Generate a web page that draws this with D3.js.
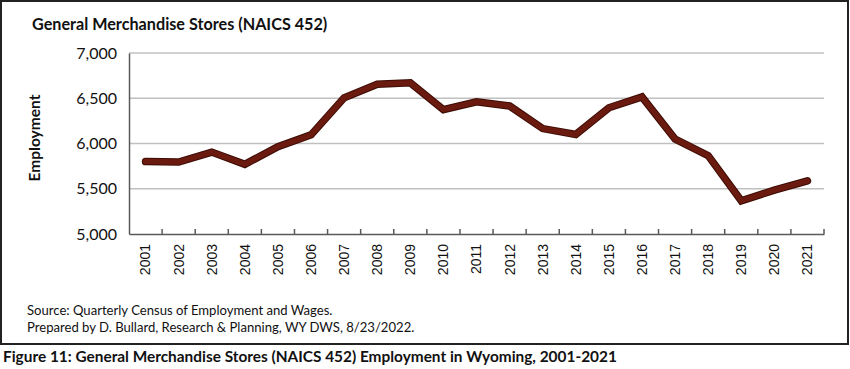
<!DOCTYPE html>
<html><head><meta charset="utf-8">
<script src="https://cdn.jsdelivr.net/npm/d3@7"></script>
<style>
html,body{margin:0;padding:0;background:#fff;}
svg{display:block;}
</style></head>
<body>
<svg id="chart" width="850" height="369"></svg>
<script>
const years = ["2001","2002","2003","2004","2005","2006","2007","2008","2009","2010","2011","2012","2013","2014","2015","2016","2017","2018","2019","2020","2021"];
const employment = [5800,5795,5905,5770,5965,6095,6505,6655,6670,6375,6460,6415,6165,6100,6395,6515,6050,5866,5367,5485,5587];
const yTicks = [5000,5500,6000,6500,7000];
const title = "General Merchandise Stores (NAICS 452)";
const yLabel = "Employment";
const notes = ["Source: Quarterly Census of Employment and Wages.","Prepared by D. Bullard, Research & Planning, WY DWS, 8/23/2022."];
const caption = "Figure 11: General Merchandise Stores (NAICS 452) Employment in Wyoming, 2001-2021";

const svg = d3.select("#chart");
const font = "Lato, 'Open Sans', sans-serif";
const m = {left:129, right:824, top:53, bottom:234};

svg.append("rect").attr("x",1).attr("y",1).attr("width",847).attr("height",343)
  .attr("fill","#fff").attr("stroke","#222").attr("stroke-width",2);

const x = d3.scaleBand().domain(years).range([m.left,m.right]);
const y = d3.scaleLinear().domain([5000,7000]).range([m.bottom,m.top]);

// gridlines
svg.append("g").selectAll("line").data(yTicks.slice(1)).join("line")
  .attr("x1",m.left).attr("x2",m.right)
  .attr("y1",d=>y(d)).attr("y2",d=>y(d))
  .attr("stroke","#c0c0c0").attr("stroke-width",1.3);

// y axis
const yAxis = svg.append("g").attr("transform",`translate(${m.left},0)`)
  .call(d3.axisLeft(y).tickValues(yTicks).tickSize(0).tickPadding(12).tickFormat(d3.format(",")));
yAxis.select(".domain").attr("stroke","#595959").attr("stroke-width",1.5);
yAxis.selectAll("text").attr("font-family",font).attr("font-size",16).attr("fill","#111");

// x axis
const xAxis = svg.append("g").attr("transform",`translate(0,${m.bottom})`)
  .call(d3.axisBottom(x).tickSize(0).tickPadding(0));
xAxis.select(".domain").attr("stroke","#595959").attr("stroke-width",1.5);
xAxis.selectAll("text")
  .attr("font-family","'Liberation Sans', Arial, sans-serif").attr("font-size",14).attr("fill","#111")
  .attr("transform","rotate(-90)").attr("text-anchor","end").attr("dy","0.35em")
  .attr("x",-10).attr("y",0);
// boundary tick marks (inside, upward)
const bounds = years.map(d=>x(d)).concat([m.right]).slice(1);
svg.append("g").selectAll("line").data(bounds).join("line")
  .attr("x1",d=>d).attr("x2",d=>d).attr("y1",m.bottom).attr("y2",m.bottom-5)
  .attr("stroke","#595959").attr("stroke-width",1.5);

// line
const line = d3.line().x((d,i)=>x(years[i])+x.bandwidth()/2).y(d=>y(d));
svg.append("path").datum(employment).attr("d",line).attr("fill","none")
  .attr("stroke","#3d0c05").attr("stroke-width",7.5).attr("stroke-linejoin","miter").attr("stroke-linecap","round");
svg.append("path").datum(employment).attr("d",line).attr("fill","none")
  .attr("stroke","#6a1a0e").attr("stroke-width",5.5).attr("stroke-linejoin","miter").attr("stroke-linecap","round");

// titles
svg.append("text").attr("x",32).attr("y",30).attr("font-family",font).attr("font-weight","bold")
  .attr("font-size",16.2).attr("fill","#111").text(title);
svg.append("text").attr("transform","translate(40,138) rotate(-90)").attr("text-anchor","middle")
  .attr("font-family",font).attr("font-weight","bold").attr("font-size",15.5).attr("fill","#111").text(yLabel);

svg.append("g").selectAll("text").data(notes).join("text")
  .attr("x",27).attr("y",(d,i)=>315+i*17).attr("font-family",font).attr("font-size",13.1).attr("fill","#111").text(d=>d);

svg.append("text").attr("x",3).attr("y",362).attr("font-family",font).attr("font-weight","bold")
  .attr("font-size",15.4).attr("fill","#111").text(caption);
</script>
</body></html>
